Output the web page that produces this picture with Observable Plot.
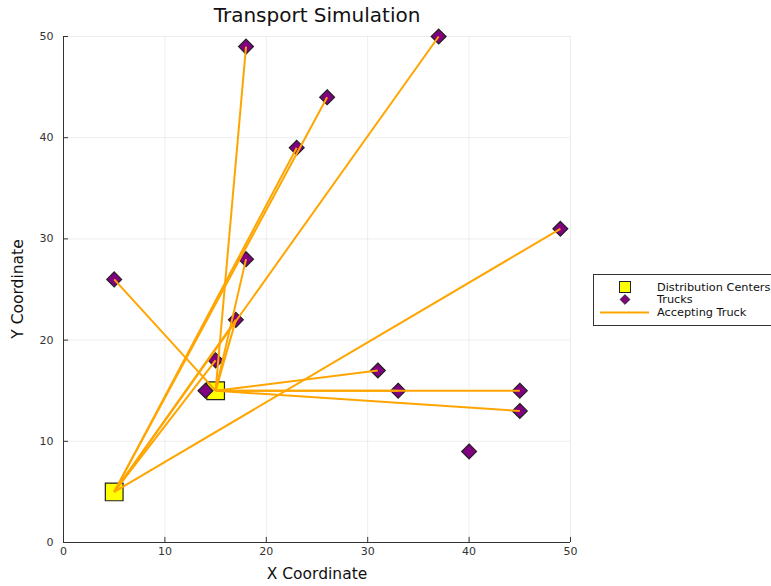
<!DOCTYPE html>
<html>
<head>
<meta charset="utf-8">
<script src="https://cdn.jsdelivr.net/npm/d3@7"></script>
<script src="https://cdn.jsdelivr.net/npm/@observablehq/plot@0.6"></script>
<style>
  html, body { margin: 0; padding: 0; background: #fff; overflow: hidden; }
  #chart { position: relative; width: 771px; height: 586px; font-family: "DejaVu Sans", sans-serif; color: #111; }
  #chart > svg { display: block; }
  .title { position: absolute; left: 0; width: 634px; top: 3px; text-align: center; font-size: 20px; }
  .xlabel { position: absolute; left: 0; width: 634px; top: 565px; text-align: center; font-size: 15.5px; }
  .ylabel { position: absolute; left: 18px; top: 289px; font-size: 15.5px; white-space: nowrap;
            transform: translate(-50%, -50%) rotate(-90deg); }
  #legend { position: absolute; left: 593px; top: 274px; }
</style>
</head>
<body>
<div id="chart">
  <div class="title">Transport Simulation</div>
  <div class="xlabel">X Coordinate</div>
  <div class="ylabel">Y Coordinate</div>
</div>
<script>
// Distribution centers
const centerX = [5, 15];
const centerY = [5, 15];

// Truck positions
const truckX = [5, 14, 15, 17, 18, 18, 23, 26, 37, 49, 31, 33, 45, 45, 40];
const truckY = [26, 15, 18, 22, 28, 49, 39, 44, 50, 31, 17, 15, 15, 13, 9];

// Accepted requests: serving center index -> truck index
const routeCenter = [0, 0, 0, 0, 0, 0, 1, 1, 1, 1, 1, 1, 1, 1];
const routeTruck  = [6, 7, 8, 2, 3, 9, 0, 5, 4, 3, 10, 11, 12, 13];

const tickValues = [0, 10, 20, 30, 40, 50];
const legendLabels = ["Distribution Centers", "Trucks", "Accepting Truck"];

const centers = centerX.map((x, i) => ({x, y: centerY[i]}));
const trucks = truckX.map((x, i) => ({x, y: truckY[i]}));
const routes = routeCenter.map((c, i) => ({
  x1: centerX[c], y1: centerY[c],
  x2: truckX[routeTruck[i]], y2: truckY[routeTruck[i]]
}));

const ink = "#333";

const chart = Plot.plot({
  width: 771,
  height: 586,
  marginLeft: 63,
  marginRight: 201,
  marginTop: 36,
  marginBottom: 44,
  x: {domain: [0, 50], ticks: tickValues},
  y: {domain: [0, 50], ticks: tickValues},
  style: {fontFamily: "DejaVu Sans", fontSize: "11px", color: ink, background: "#fff", overflow: "visible"},
  marks: [
    Plot.gridX(tickValues, {stroke: "#000", strokeOpacity: 0.07}),
    Plot.gridY(tickValues, {stroke: "#000", strokeOpacity: 0.07}),
    // axis spines and inward ticks
    Plot.ruleX([0], {stroke: ink}),
    Plot.ruleY([0], {stroke: ink}),
    Plot.ruleX(tickValues, {x: d => d, y1: 0, y2: 0.5, stroke: ink}),
    Plot.ruleY(tickValues, {y: d => d, x1: 0, x2: 0.5, stroke: ink}),
    Plot.axisX({ticks: tickValues, tickSize: 0, tickPadding: 5, label: null}),
    Plot.axisY({ticks: tickValues, tickSize: 0, tickPadding: 10, label: null}),
    // distribution centers, trucks, then accepted routes on top
    Plot.dot(centers, {x: "x", y: "y", symbol: "square", r: 10, fill: "#FFFF00", stroke: "#222", strokeWidth: 1.2}),
    Plot.dot(trucks, {x: "x", y: "y", symbol: "diamond2", r: 6.7, fill: "#800080", stroke: "#222", strokeWidth: 1.2}),
    Plot.link(routes, {x1: "x1", y1: "y1", x2: "x2", y2: "y2", stroke: "#FFA500", strokeWidth: 2})
  ]
});
document.getElementById("chart").prepend(chart);

// Legend
const lg = d3.select("#chart").append("svg")
  .attr("id", "legend")
  .attr("width", 200)
  .attr("height", 53)
  .style("font-family", "DejaVu Sans")
  .style("font-size", "11.3px");
lg.append("rect").attr("x", 0.5).attr("y", 0.5).attr("width", 220).attr("height", 51)
  .attr("fill", "#fff").attr("stroke", ink);
const rowY = [13, 25.5, 38.5];
lg.append("rect").attr("x", 32 - 5.5).attr("y", rowY[0] - 5.5).attr("width", 11).attr("height", 11)
  .attr("fill", "#FFFF00").attr("stroke", "#222");
lg.append("path").attr("d", d3.symbol(d3.symbolDiamond2, 60)()).attr("transform", `translate(32,${rowY[1]})`)
  .attr("fill", "#800080").attr("stroke", "#222");
lg.append("line").attr("x1", 7).attr("x2", 56).attr("y1", rowY[2]).attr("y2", rowY[2])
  .attr("stroke", "#FFA500").attr("stroke-width", 2);
lg.selectAll("text.lab").data(legendLabels).join("text")
  .attr("class", "lab")
  .attr("x", 64)
  .attr("y", (d, i) => rowY[i])
  .attr("dy", "0.35em")
  .attr("fill", "#111")
  .text(d => d);
</script>
</body>
</html>
